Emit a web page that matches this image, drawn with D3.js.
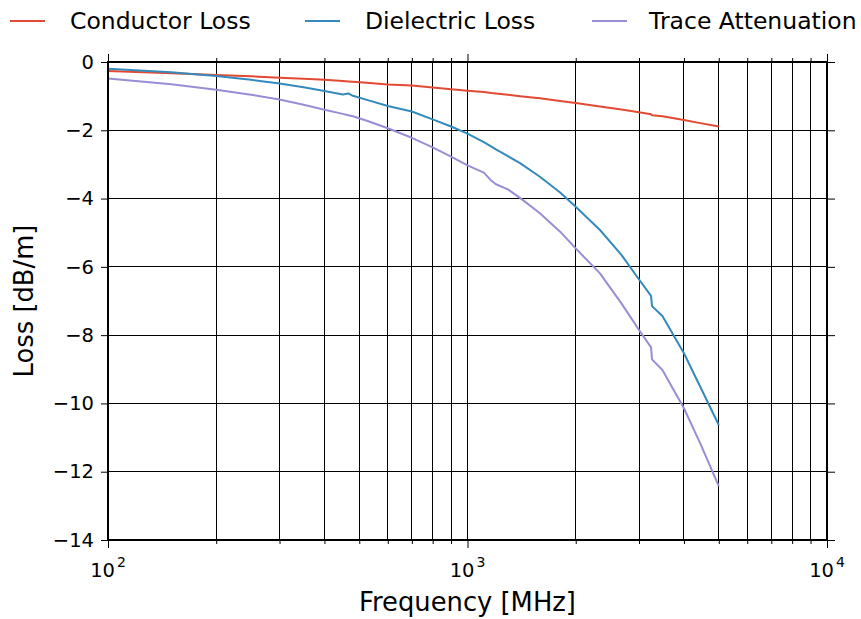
<!DOCTYPE html>
<html>
<head>
<meta charset="utf-8">
<script src="https://cdn.jsdelivr.net/npm/d3@7"></script>
<style>
  body { margin: 0; background: #fff; }
  svg { font-family: "DejaVu Sans", sans-serif; display: block; }
  .grid line { stroke: #000; stroke-width: 1; shape-rendering: crispEdges; }
  .axis path { display: none; }
  .axis line { stroke: #000; stroke-width: 1; }
</style>
</head>
<body>
<svg width="861" height="619"></svg>
<script>
// frequency points [MHz]
const freqMHz = [100, 150, 200, 250, 300, 350, 400, 450, 466, 480, 525, 600, 700, 800, 900,
  1000, 1110, 1166, 1200, 1295, 1400, 1590, 1810, 2000, 2336, 2680, 3000, 3240, 3260, 3485,
  4000, 4440, 5000];

// loss [dB/m]
const conductorLoss = [-0.26, -0.33, -0.38, -0.42, -0.46, -0.49, -0.52, -0.56, -0.57, -0.58, -0.61,
  -0.66, -0.69, -0.75, -0.80, -0.84, -0.88, -0.91, -0.92, -0.96, -1.00, -1.06, -1.14, -1.20, -1.30,
  -1.39, -1.47, -1.53, -1.56, -1.59, -1.70, -1.79, -1.89];

const dielectricLoss = [-0.20, -0.30, -0.41, -0.52, -0.63, -0.74, -0.85, -0.95, -0.92, -0.99, -1.11,
  -1.29, -1.45, -1.68, -1.89, -2.10, -2.35, -2.48, -2.56, -2.76, -2.96, -3.36, -3.82, -4.24, -4.92,
  -5.65, -6.37, -6.85, -7.15, -7.44, -8.53, -9.51, -10.63];

const traceAttenuation = [-0.48, -0.65, -0.81, -0.96, -1.10, -1.25, -1.40, -1.52, -1.56, -1.59, -1.72,
  -1.94, -2.22, -2.50, -2.77, -3.03, -3.24, -3.48, -3.58, -3.73, -3.98, -4.43, -4.97, -5.46, -6.19,
  -7.07, -7.85, -8.36, -8.71, -9.02, -10.14, -11.17, -12.42];

const seriesNames = ['Conductor Loss', 'Dielectric Loss', 'Trace Attenuation'];
const seriesColors = ['#E24A33', '#348ABD', '#988ED5'];

const yTicks = [-14, -12, -10, -8, -6, -4, -2, 0];
const xMajorTicks = [100, 1000, 10000];
const xTickExponents = ['2', '3', '4'];

const svg = d3.select('svg');
const width = +svg.attr('width');
const height = +svg.attr('height');
const margin = {top: 62, right: 34, bottom: 79, left: 108};
const innerW = width - margin.left - margin.right;
const innerH = height - margin.top - margin.bottom;

const x = d3.scaleLog().domain([100, 10000]).range([0, innerW]);
const y = d3.scaleLinear().domain([-14, 0]).range([innerH, 0]);

const g = svg.append('g').attr('transform', `translate(${margin.left},${margin.top})`);

// minor + major x ticks
const xAllTicks = [];
[100, 1000].forEach(dec => {
  for (let k = 1; k < 10; k++) xAllTicks.push(dec * k);
});
xAllTicks.push(10000);
const xMinorTicks = xAllTicks.filter(v => xMajorTicks.indexOf(v) < 0);

// grid
const grid = g.append('g').attr('class', 'grid');
grid.selectAll('.vx')
  .data(xAllTicks)
  .enter()
  .append('line')
  .attr('x1', d => x(d)).attr('x2', d => x(d))
  .attr('y1', 0).attr('y2', innerH);
grid.selectAll('.hy')
  .data(yTicks)
  .enter()
  .append('line')
  .attr('x1', 0).attr('x2', innerW)
  .attr('y1', d => y(d)).attr('y2', d => y(d));

// axes (ticks outward on all four sides)
const leftAxis = g.append('g').attr('class', 'axis')
  .call(d3.axisLeft(y).tickValues(yTicks).tickSize(7).tickPadding(7));
leftAxis.selectAll('text')
  .style('font-size', '19.5px')
  .style('font-family', '"DejaVu Sans", sans-serif')
  .attr('fill', '#000');

g.append('g').attr('class', 'axis')
  .attr('transform', `translate(${innerW},0)`)
  .call(d3.axisRight(y).tickValues(yTicks).tickSize(8).tickFormat(''));

const bottomAxis = g.append('g').attr('class', 'axis')
  .attr('transform', `translate(0,${innerH})`);
bottomAxis.call(d3.axisBottom(x).tickValues(xMajorTicks).tickSize(8).tickFormat(''));
bottomAxis.append('g')
  .call(d3.axisBottom(x).tickValues(xMinorTicks).tickSize(4).tickFormat(''))
  .select('.domain').remove();

const topAxis = g.append('g').attr('class', 'axis');
topAxis.call(d3.axisTop(x).tickValues(xMajorTicks).tickSize(8).tickFormat(''));
topAxis.append('g')
  .call(d3.axisTop(x).tickValues(xMinorTicks).tickSize(4).tickFormat(''))
  .select('.domain').remove();

// x tick labels as 10^n
const xLab = g.selectAll('.xlab')
  .data(xMajorTicks)
  .enter()
  .append('text')
  .attr('x', d => x(d))
  .attr('y', innerH + 37)
  .attr('text-anchor', 'middle')
  .style('font-size', '19.5px');
xLab.append('tspan').text('10');
xLab.append('tspan')
  .attr('dy', -10)
  .attr('dx', 2)
  .style('font-size', '14px')
  .text((d, i) => xTickExponents[i]);

// lines
const lineGen = vals => d3.line()
  .x((d, i) => x(freqMHz[i]))
  .y(d => y(d))(vals);

[conductorLoss, dielectricLoss, traceAttenuation].forEach((vals, i) => {
  g.append('path')
    .attr('d', lineGen(vals))
    .attr('fill', 'none')
    .attr('stroke', seriesColors[i])
    .attr('stroke-width', 2)
    .attr('stroke-linejoin', 'round');
});

// frame
g.append('rect')
  .attr('width', innerW)
  .attr('height', innerH)
  .attr('fill', 'none')
  .attr('stroke', '#000')
  .attr('stroke-width', 2);

// axis labels
svg.append('text')
  .attr('x', margin.left + innerW / 2)
  .attr('y', 611)
  .attr('text-anchor', 'middle')
  .style('font-size', '25.8px')
  .text('Frequency [MHz]');

svg.append('text')
  .attr('transform', `translate(33,${margin.top + innerH / 2}) rotate(-90)`)
  .attr('text-anchor', 'middle')
  .style('font-size', '25.8px')
  .text('Loss [dB/m]');

// legend above the plot
const legendX = [10, 305, 592];
const legend = svg.selectAll('.legend')
  .data(seriesNames)
  .enter()
  .append('g')
  .attr('transform', (d, i) => `translate(${legendX[i]},21)`);
legend.append('line')
  .attr('x1', 0).attr('x2', 35)
  .attr('stroke', (d, i) => seriesColors[i])
  .attr('stroke-width', 2);
legend.append('text')
  .attr('x', (d, i) => i === 2 ? 57 : 60)
  .attr('y', 8)
  .style('font-size', '23.5px')
  .text(d => d);
</script>
</body>
</html>
